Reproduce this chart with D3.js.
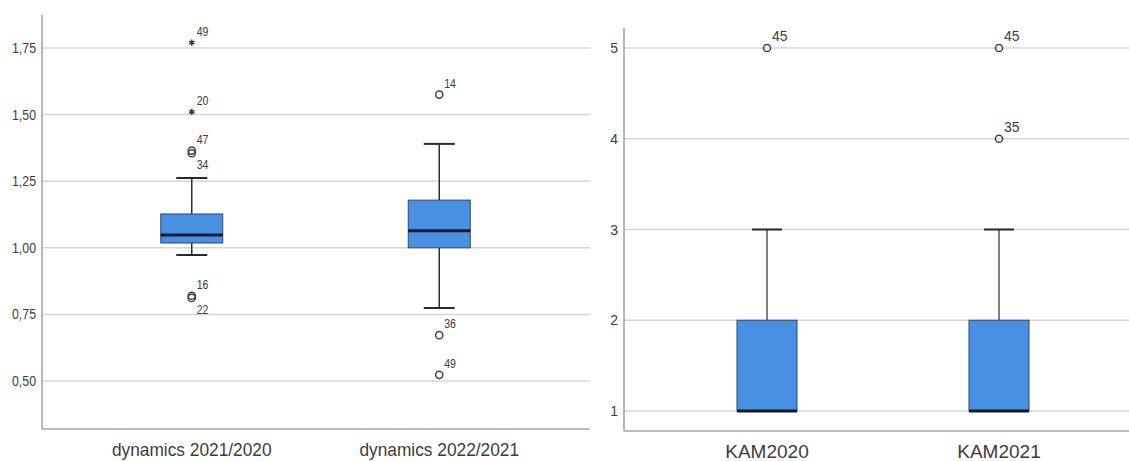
<!DOCTYPE html>
<html>
<head>
<meta charset="utf-8">
<script src="https://cdn.jsdelivr.net/npm/d3@7"></script>
<style>
  body { margin: 0; background: #fff; }
  svg { display: block; }
  text { font-family: "Liberation Sans", Arial, sans-serif; fill: #3c3c3c; }
</style>
</head>
<body>
<svg id="chart" width="1129" height="461"></svg>
<script>
// left panel: dynamics ratios
var dynCats = ["dynamics 2021/2020", "dynamics 2022/2021"];
var dynQ1 = [1.018, 1.000];
var dynMedian = [1.048, 1.064];
var dynQ3 = [1.127, 1.179];
var dynWhiskerLo = [0.973, 0.774];
var dynWhiskerHi = [1.262, 1.390];
var dynOutliers = [
  {cat: 0, value: 1.77, id: "49"},
  {cat: 0, value: 1.51, id: "20"},
  {cat: 0, value: 1.365, id: "47"},
  {cat: 0, value: 1.355, id: "34"},
  {cat: 0, value: 0.82, id: "16"},
  {cat: 0, value: 0.812, id: "22"},
  {cat: 1, value: 1.575, id: "14"},
  {cat: 1, value: 0.672, id: "36"},
  {cat: 1, value: 0.523, id: "49"}
];
var dynTicks = [0.5, 0.75, 1.0, 1.25, 1.5, 1.75];

// right panel: KAM scores
var kamCats = ["KAM2020", "KAM2021"];
var kamQ1 = [1, 1];
var kamMedian = [1, 1];
var kamQ3 = [2, 2];
var kamWhiskerLo = [1, 1];
var kamWhiskerHi = [3, 3];
var kamOutliers = [
  {cat: 0, value: 5, id: "45"},
  {cat: 1, value: 5, id: "45"},
  {cat: 1, value: 4, id: "35"}
];
var kamTicks = [1, 2, 3, 4, 5];

var svg = d3.select("#chart");
var boxColor = "#4a90e2";

// squeeze text horizontally, the SPSS export looks narrow
function condense(sel, f) {
  sel.each(function() {
    var w = this.getComputedTextLength();
    d3.select(this).attr("textLength", w * f).attr("lengthAdjust", "spacingAndGlyphs");
  });
}

function drawPanel(p) {
  var g = svg.append("g");
  var x = d3.scalePoint().domain(p.cats).range(p.xRange).padding(0.5);
  var y = d3.scaleLinear().domain(p.yDomain).range(p.yRange);

  // grid lines
  g.selectAll(".grid").data(p.ticks).enter().append("line")
    .attr("x1", p.axisX).attr("x2", p.gridRight)
    .attr("y1", function(d) { return y(d); })
    .attr("y2", function(d) { return y(d); })
    .attr("stroke", "#d6d6d6").attr("stroke-width", 1.5);

  // axes
  g.append("line").attr("x1", p.axisX).attr("x2", p.axisX)
    .attr("y1", y(p.axisTop)).attr("y2", y(p.axisBottom))
    .attr("stroke", "#a5a5a5").attr("stroke-width", 1.6);
  g.append("line").attr("x1", p.axisX).attr("x2", p.gridRight)
    .attr("y1", y(p.axisBottom)).attr("y2", y(p.axisBottom))
    .attr("stroke", "#a5a5a5").attr("stroke-width", 1.6);

  var tl = g.selectAll(".tick").data(p.ticks).enter().append("text")
    .attr("x", p.axisX - 6)
    .attr("y", function(d) { return y(d) + 5; })
    .attr("text-anchor", "end")
    .attr("font-size", p.tickSize)
    .attr("fill", "#4a4a4a")
    .text(p.tickFormat);
  condense(tl, p.squeeze);

  var cl = g.selectAll(".cat").data(p.cats).enter().append("text")
    .attr("x", function(d) { return x(d); })
    .attr("y", p.catY)
    .attr("text-anchor", "middle")
    .attr("font-size", 19)
    .attr("fill", p.catColor)
    .text(function(d) { return d; });
  condense(cl, p.catSqueeze);

  var idx = d3.range(p.cats.length);
  var bw = p.boxW;

  // whiskers
  g.selectAll(".wh").data(idx).enter().append("line")
    .attr("x1", function(i) { return x(p.cats[i]); })
    .attr("x2", function(i) { return x(p.cats[i]); })
    .attr("y1", function(i) { return y(p.q3[i]); })
    .attr("y2", function(i) { return y(p.hi[i]); })
    .attr("stroke", p.whiskerColor).attr("stroke-width", 1.5);
  g.selectAll(".wl").data(idx).enter().append("line")
    .attr("x1", function(i) { return x(p.cats[i]); })
    .attr("x2", function(i) { return x(p.cats[i]); })
    .attr("y1", function(i) { return y(p.q1[i]); })
    .attr("y2", function(i) { return y(p.lo[i]); })
    .attr("stroke", p.whiskerColor).attr("stroke-width", 1.5);
  [p.hi, p.lo].forEach(function(arr) {
    g.selectAll(null).data(idx.filter(function(i) { return arr[i] != p.q1[i] && arr[i] != p.q3[i]; }))
      .enter().append("line")
      .attr("x1", function(i) { return x(p.cats[i]) - bw / 4; })
      .attr("x2", function(i) { return x(p.cats[i]) + bw / 4; })
      .attr("y1", function(i) { return y(arr[i]); })
      .attr("y2", function(i) { return y(arr[i]); })
      .attr("stroke", "#2a2a2a").attr("stroke-width", 2);
  });

  // boxes
  g.selectAll(".box").data(idx).enter().append("rect")
    .attr("x", function(i) { return x(p.cats[i]) - bw / 2; })
    .attr("y", function(i) { return y(p.q3[i]); })
    .attr("width", bw)
    .attr("height", function(i) { return y(p.q1[i]) - y(p.q3[i]); })
    .attr("fill", boxColor)
    .attr("stroke", "#2c4870").attr("stroke-width", 1);
  g.selectAll(".med").data(idx).enter().append("line")
    .attr("x1", function(i) { return x(p.cats[i]) - bw / 2; })
    .attr("x2", function(i) { return x(p.cats[i]) + bw / 2; })
    .attr("y1", function(i) { return y(p.median[i]); })
    .attr("y2", function(i) { return y(p.median[i]); })
    .attr("stroke", "#111a2a").attr("stroke-width", 3);

  // outliers: circles, extremes (> 3 IQR) as asterisks
  p.outliers.forEach(function(o, k) {
    var i = o.cat;
    var iqr = p.q3[i] - p.q1[i];
    var extreme = o.value > p.q3[i] + 3 * iqr || o.value < p.q1[i] - 3 * iqr;
    var cx = x(p.cats[i]), cy = y(o.value);
    if (extreme) {
      g.append("path")
        .attr("d", d3.symbol().type(d3.symbolAsterisk).size(26)())
        .attr("transform", "translate(" + cx + "," + cy + ")")
        .attr("stroke", "#333").attr("stroke-width", 1.4).attr("fill", "none");
    } else {
      g.append("circle").attr("cx", cx).attr("cy", cy).attr("r", 3.6)
        .attr("fill", "none").attr("stroke", "#444").attr("stroke-width", 1.5);
    }
    // a close neighbour above pushes this label below the mark
    var below = p.outliers.some(function(q, j) {
      return j != k && q.cat == i && q.value > o.value && q.value - o.value < 0.03;
    });
    var t = g.append("text")
      .attr("x", cx + 5)
      .attr("y", below ? cy + 16 : cy - 7)
      .attr("font-size", p.labelSize)
      .attr("fill", "#444")
      .text(o.id);
    condense(t, p.squeeze);
  });
}

drawPanel({
  cats: dynCats, q1: dynQ1, median: dynMedian, q3: dynQ3,
  lo: dynWhiskerLo, hi: dynWhiskerHi, outliers: dynOutliers, ticks: dynTicks,
  xRange: [68, 563], yDomain: [0.5, 1.75], yRange: [381, 48],
  axisX: 42, gridRight: 590, axisTop: 1.874, axisBottom: 0.32,
  boxW: 62, tickSize: 14, labelSize: 12, squeeze: 0.88, catSqueeze: 0.91, catY: 456,
  catColor: "#404040", whiskerColor: "#2e2e2e",
  tickFormat: function(d) { return d3.format(".2f")(d).replace(".", ","); }
});

drawPanel({
  cats: kamCats, q1: kamQ1, median: kamMedian, q3: kamQ3,
  lo: kamWhiskerLo, hi: kamWhiskerHi, outliers: kamOutliers, ticks: kamTicks,
  xRange: [651, 1115], yDomain: [1, 5], yRange: [411, 48],
  axisX: 624, gridRight: 1129, axisTop: 5.22, axisBottom: 0.78,
  boxW: 60, tickSize: 14, labelSize: 14, squeeze: 1, catSqueeze: 1, catY: 458,
  catColor: "#555", whiskerColor: "#555",
  tickFormat: d3.format("d")
});
</script>
</body>
</html>
